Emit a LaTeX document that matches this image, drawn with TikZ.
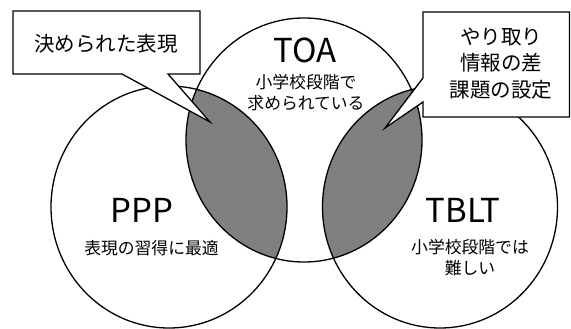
\documentclass[tikz,border=0pt]{standalone}
\usepackage{fontspec}
\setmainfont{Noto Sans CJK JP}
\definecolor{lensgray}{RGB}{128,128,130}
\begin{document}
\begin{tikzpicture}[x=1pt,y=-1pt,
  outline/.style={draw=black,line width=1.3pt},
  callout/.style={draw=black,line width=1.3pt,fill=white,line join=miter},
  title/.style={font=\fontsize{33}{36}\selectfont,inner sep=0pt},
  small/.style={font=\fontsize{16.8}{21}\selectfont,align=center,inner sep=0pt},
  calltext/.style={font=\fontsize{20.5}{26.5}\selectfont,align=center,inner sep=0pt}]
\useasboundingbox (0,0) rectangle (571,329);
\fill[white] (0,0) rectangle (571,329);
% shaded lenses
\begin{scope}
  \clip (304,140) ellipse [x radius=118pt, y radius=122pt];
  \fill[lensgray] (169,207) ellipse [x radius=118pt, y radius=121pt];
  \fill[lensgray] (440,207) ellipse [x radius=117.5pt, y radius=121pt];
\end{scope}
% circles
\draw[outline] (169,207) ellipse [x radius=118pt, y radius=121pt];
\draw[outline] (304,140) ellipse [x radius=118pt, y radius=122pt];
\draw[outline] (440,207) ellipse [x radius=117.5pt, y radius=121pt];
% callouts
\draw[callout] (13,11) -- (200,11) -- (200,74) -- (168,74) -- (210,122) -- (122,74) -- (13,74) -- cycle;
\draw[callout] (423,12) -- (569.5,12) -- (569.5,117) -- (423,117) -- (423,102) -- (385,128) -- (423,78) -- cycle;
% texts
\node[title] (toa) at (305,50) {TOA};
\node[small] (toatxt) at (306,92.5) {小学校段階で\\求められている};
\node[title] (ppp) at (142,210) {PPP};
\node[small] (ppptxt) at (151.5,248) {表現の習得に最適};
\node[title] (tblt) at (463,210) {TBLT};
\node[small] (tblttxt) at (470,258) {小学校段階では\\難しい};
\node[calltext] (lcall) at (106,44) {決められた表現};
\node[calltext] (rcall) at (501,63.5) {やり取り\\情報の差\\課題の設定};
\end{tikzpicture}
\end{document}
